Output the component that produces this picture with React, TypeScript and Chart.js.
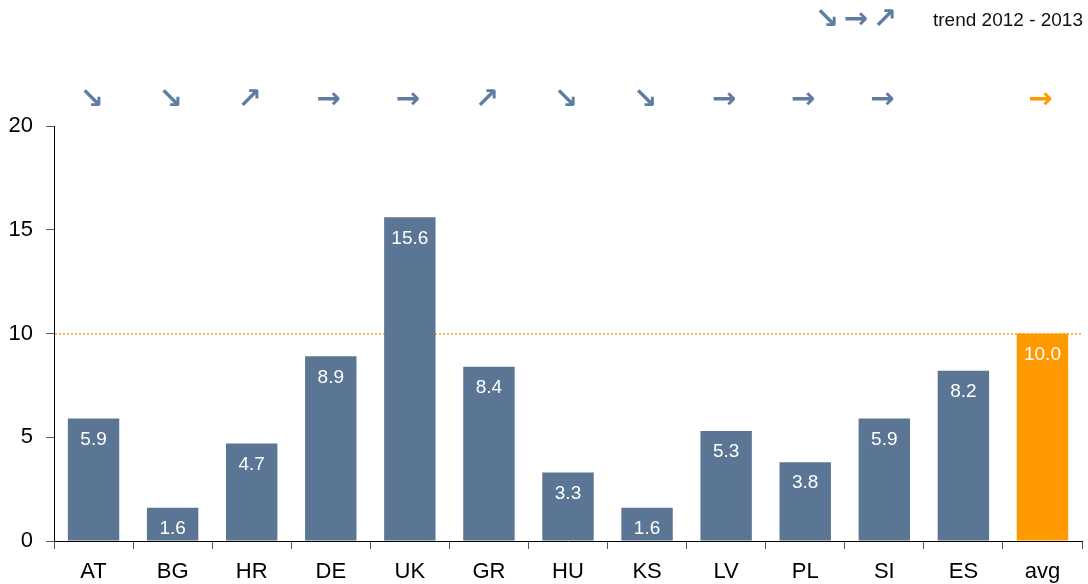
import { useEffect, useRef } from "react";
import { Chart, registerables } from "chart.js";

Chart.register(...registerables);

const categories = ["AT", "BG", "HR", "DE", "UK", "GR", "HU", "KS", "LV", "PL", "SI", "ES", "avg"];
const values = [5.9, 1.6, 4.7, 8.9, 15.6, 8.4, 3.3, 1.6, 5.3, 3.8, 5.9, 8.2, 10.0];
const trends = ["↘", "↘", "↗", "→", "→", "↗", "↘", "↘", "→", "→", "→", "", "→"];
const averageLine = 10;
const yMin = 0;
const yMax = 20;
const yStep = 5;
const legendArrows = ["↘", "→", "↗"];
const legendText = "trend 2012 - 2013";

const BLUE = "#5B7594";
const ORANGE = "#FF9900";
const ARROW_BLUE = "#5F7DA3";
const FONT = "'Liberation Sans', Arial, sans-serif";

const overlay = {
  id: "overlay",
  beforeDatasetsDraw(chart: any) {
    const { ctx, chartArea, scales } = chart;
    const yy = Math.round(scales.y.getPixelForValue(averageLine));
    ctx.save();
    ctx.strokeStyle = "#FFB54A";
    ctx.lineWidth = 2;
    ctx.setLineDash([2, 2]);
    ctx.beginPath();
    ctx.moveTo(chartArea.left + 1, yy);
    ctx.lineTo(chartArea.right, yy);
    ctx.stroke();
    ctx.restore();
  },
  afterDatasetsDraw(chart: any) {
    const { ctx, scales } = chart;
    const meta = chart.getDatasetMeta(0);
    ctx.save();
    ctx.font = "19px " + FONT;
    ctx.fillStyle = "#ffffff";
    ctx.textAlign = "center";
    ctx.textBaseline = "middle";
    meta.data.forEach((bar: any, i: number) => {
      ctx.fillText(values[i].toFixed(1), bar.x, bar.y + 21);
    });
    ctx.font = "bold 29px 'DejaVu Sans'";
    trends.forEach((t, i) => {
      if (!t) return;
      ctx.fillStyle = i === trends.length - 1 ? ORANGE : ARROW_BLUE;
      ctx.fillText(t, scales.x.getPixelForValue(i) - 2, 100);
    });
    // legend
    const lx = [827, 856, 885];
    legendArrows.forEach((a, i) => {
      ctx.fillStyle = ARROW_BLUE;
      ctx.fillText(a, lx[i], 20);
    });
    ctx.font = "19px " + FONT;
    ctx.fillStyle = "#111";
    ctx.textAlign = "left";
    ctx.fillText(legendText, 933, 21);
    ctx.restore();
  },
};

export default function App() {
  const ref = useRef<HTMLCanvasElement | null>(null);
  useEffect(() => {
    if (!ref.current) return;
    const chart = new Chart(ref.current, {
      type: "bar",
      data: {
        labels: categories,
        datasets: [
          {
            data: values,
            backgroundColor: values.map((_, i) => (i === values.length - 1 ? ORANGE : BLUE)),
            barPercentage: 0.65,
            categoryPercentage: 1,
          },
        ],
      },
      options: {
        responsive: false,
        animation: false,
        layout: { padding: { top: 126, right: 6, left: 0, bottom: 0 } },
        plugins: { legend: { display: false }, tooltip: { enabled: false } },
        scales: {
          x: {
            grid: { drawOnChartArea: false, tickLength: 8, color: "#555", offset: true },
            border: { color: "#000", width: 1 },
            ticks: { color: "#000", font: { size: 22, family: FONT }, padding: 10 },
            afterFit(s: any) {
              s.height = 43;
            },
          },
          y: {
            min: yMin,
            max: yMax,
            ticks: { stepSize: yStep, color: "#000", font: { size: 22, family: FONT }, padding: 13 },
            grid: { drawOnChartArea: false, tickLength: 8, color: "#555" },
            border: { color: "#000", width: 1 },
            afterFit(s: any) {
              s.width = 54;
            },
          },
        },
      },
      plugins: [overlay],
    });
    return () => chart.destroy();
  }, []);
  return (
    <div style={{ position: "absolute", left: 0, top: 0, width: 1088, height: 584, background: "#fff" }}>
      <canvas ref={ref} width={1088} height={584} />
    </div>
  );
}
